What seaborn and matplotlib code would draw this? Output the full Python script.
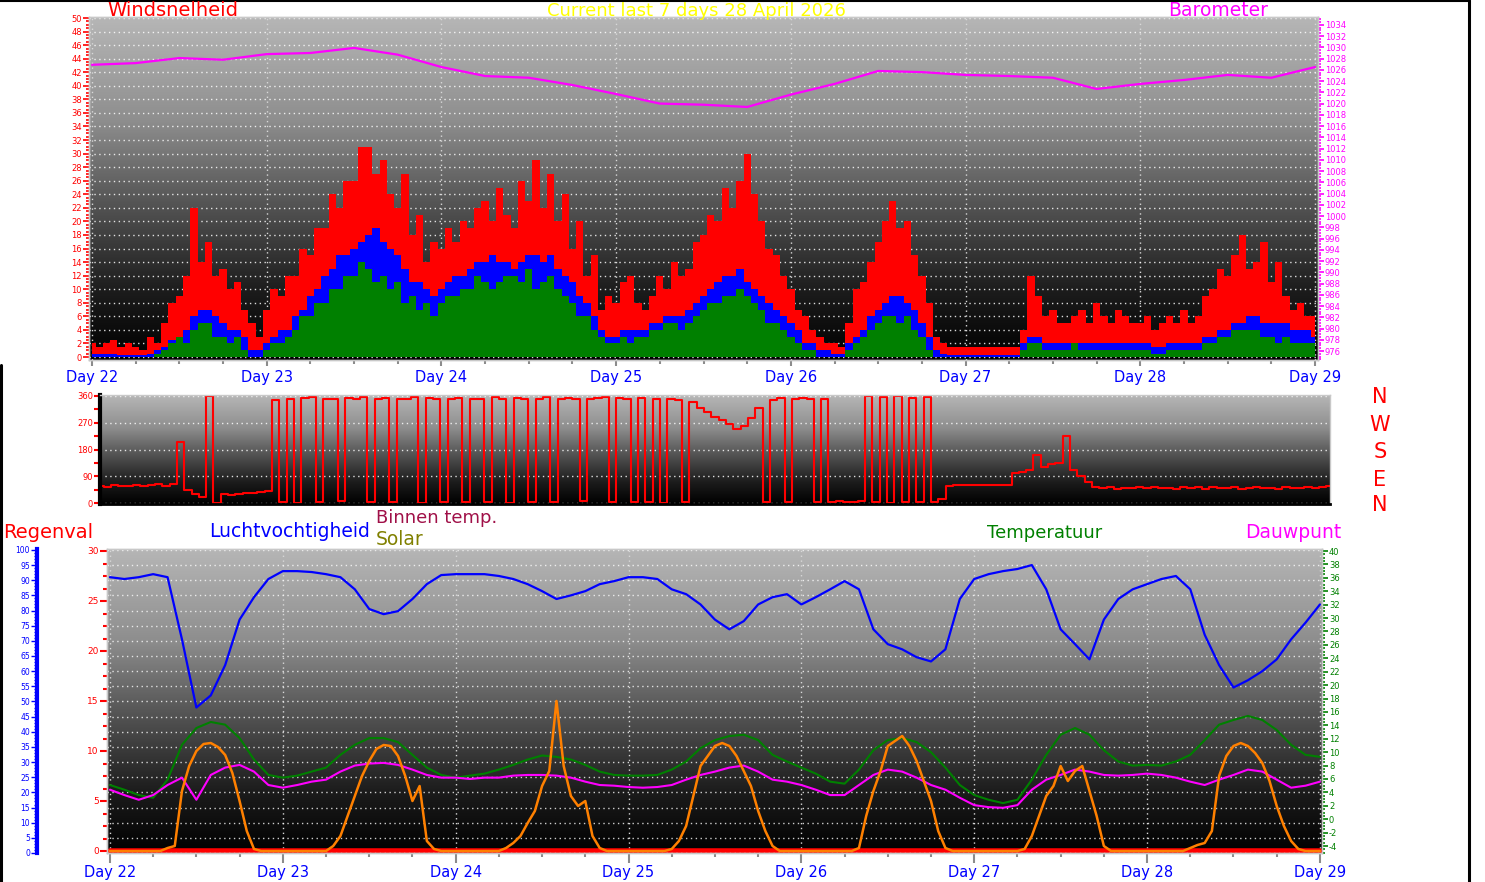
import numpy as np
import matplotlib
matplotlib.use("Agg")
import matplotlib.pyplot as plt
from matplotlib.colors import LinearSegmentedColormap
from matplotlib.lines import Line2D
from matplotlib.ticker import MultipleLocator
import seaborn as sns

# =========================================================
# Data (22-29 April)
# =========================================================
day_labels = ["Day 22", "Day 23", "Day 24", "Day 25", "Day 26", "Day 27", "Day 28", "Day 29"]
day_ticks = [22, 23, 24, 25, 26, 27, 28, 29]

# barometer (hPa), every 6 hours
baro_hpa = [1026.9, 1027.2, 1028.1, 1027.8, 1028.8, 1029.0, 1029.9, 1028.7,
            1026.5, 1024.9, 1024.6, 1023.3, 1021.7, 1020.0, 1019.8, 1019.4,
            1021.6, 1023.5, 1025.8, 1025.6, 1025.1, 1024.9, 1024.6, 1022.6,
            1023.5, 1024.2, 1025.1, 1024.6, 1026.5]

# wind (hourly): gust, average, speed
wind_gust = [2, 1.5, 2, 2.5, 1.5, 2, 1.5, 1, 3, 2, 5, 8, 9, 12, 22, 14, 17, 12, 13, 10, 11, 7, 5, 3,
             7, 10, 9, 12, 12, 16, 15, 19, 19, 24, 22, 26, 26, 31, 31, 27, 29, 24, 22, 27, 18, 21, 14, 17,
             16, 19, 17, 20, 19, 22, 23, 20, 25, 21, 19, 26, 23, 29, 22, 27, 20, 24, 16, 20, 12, 15, 7, 9,
             8, 11, 12, 8, 7, 9, 12, 10, 14, 12, 13, 17, 18, 21, 20, 25, 22, 26, 30, 24, 20, 16, 15, 12,
             10, 7, 6, 4, 3, 2, 2, 1.5, 5, 10, 11, 14, 17, 20, 23, 19, 20, 15, 12, 8, 3, 2, 1.5, 1.5,
             1.5, 1.5, 1.5, 1.5, 1.5, 1.5, 1.5, 1.5, 4, 12, 9, 6, 7, 5, 5, 6, 7, 5, 8, 6, 5, 7, 6, 5,
             5, 6, 4, 5, 6, 5, 7, 5, 6, 9, 10, 13, 12, 15, 18, 13, 14, 17, 11, 14, 9, 7, 8, 6,
             6]
wind_avg = [0.5, 0.5, 0.5, 0.5, 0.3, 0.3, 0.3, 0.3, 0.5, 1, 1.5, 2.5, 3, 4, 6, 7, 7, 6, 5, 4, 4, 3, 1, 1,
            2, 3, 4, 4, 6, 7, 9, 10, 12, 13, 15, 15, 16, 17, 18, 19, 17, 16, 15, 13, 11, 11, 10, 9,
            10, 11, 12, 12, 13, 14, 14, 15, 14, 14, 13, 14, 15, 15, 14, 15, 13, 12, 11, 9, 8, 6, 4, 3,
            3, 4, 4, 4, 4, 5, 5, 6, 6, 6, 7, 8, 9, 10, 11, 12, 12, 13, 11, 10, 9, 8, 7, 6,
            5, 4, 2, 2, 1, 1, 0.5, 0.5, 2, 3, 4, 6, 7, 8, 9, 9, 8, 7, 5, 3, 1, 0.5, 0.3, 0.3,
            0.3, 0.3, 0.3, 0.3, 0.3, 0.3, 0.3, 0.3, 2, 3, 3, 2, 2, 2, 2, 2, 2, 2, 2, 2, 2, 2, 2, 2,
            2, 2, 1.5, 1.5, 2, 2, 2, 2, 2, 3, 3, 4, 4, 5, 5, 6, 6, 5, 5, 5, 5, 4, 4, 4,
            3]
wind_speed = [0, 0, 0, 0, 0, 0, 0, 0, 0, 0.5, 1, 2, 3, 2, 4, 5, 5, 3, 3, 2, 3, 1, 0, 0,
              1, 2, 2, 3, 4, 6, 6, 8, 8, 10, 10, 12, 12, 14, 13, 11, 12, 10, 11, 8, 9, 7, 8, 6,
              8, 9, 9, 10, 10, 12, 11, 10, 11, 12, 12, 11, 13, 10, 11, 12, 10, 9, 8, 6, 6, 4, 3, 2,
              2, 3, 2, 3, 3, 4, 4, 5, 5, 4, 5, 6, 7, 8, 8, 9, 9, 10, 9, 8, 7, 5, 5, 4,
              3, 2, 1, 1, 0, 0, 0, 0, 1, 2, 3, 4, 5, 6, 6, 5, 6, 4, 3, 1, 0, 0, 0, 0,
              0, 0, 0, 0, 0, 0, 0, 0, 1, 2, 2, 1, 1, 1, 1, 2, 1, 1, 1, 1, 1, 1, 1, 1,
              1, 1, 0.5, 0.5, 1, 1, 1, 1, 1, 2, 2, 3, 3, 4, 4, 4, 4, 3, 3, 2, 3, 2, 2, 2,
              2]

# wind direction (degrees), hourly
wind_dir = [58, 55, 60, 56, 58, 62, 57, 60, 63, 58, 65, 205, 45, 30, 20, 358, 2, 30, 28, 30, 33, 35, 38, 42,
            345, 5, 350, 2, 352, 355, 5, 350, 348, 8, 352, 350, 355, 3, 350, 352, 5, 348, 350, 355, 2, 352, 350, 4,
            350, 352, 5, 348, 350, 3, 355, 350, 2, 352, 348, 5, 350, 355, 3, 350, 352, 350, 6, 348, 352, 355, 4, 352,
            350, 5, 352, 3, 348, 2, 350, 345, 3, 340, 320, 305, 290, 280, 265, 250, 260, 285, 320, 4, 345, 352, 3, 350,
            352, 348, 5, 350, 5, 6, 4, 5, 6, 358, 3, 355, 2, 358, 5, 352, 3, 356, 4, 15, 58, 60, 60, 60,
            60, 60, 60, 60, 62, 100, 105, 110, 160, 120, 130, 135, 225, 110, 90, 70, 55, 50, 55, 48, 52, 50, 55, 50,
            55, 50, 52, 48, 55, 50, 53, 48, 55, 52, 50, 55, 48, 52, 55, 50, 52, 48, 55, 50, 52, 55, 50, 53,
            58]

# humidity (%), temperature and dew point (C), every 2 hours
humidity = [91, 90.4, 91, 92, 91, 70.5, 48, 52, 62, 77, 84.4, 90.4,
            93, 93, 92.7, 92, 91, 87, 80.5, 78.8, 79.8, 83.8, 88.7, 91.7,
            92, 92, 92, 91.4, 90.4, 88.7, 86.4, 83.8, 85, 86.4, 88.7, 89.7,
            91, 91, 90.4, 87, 85.4, 82, 77, 73.8, 76.5, 82, 84.4, 85.4,
            82, 84.4, 87, 89.7, 87, 73.8, 68.9, 67.2, 64.6, 63.2, 67.2, 83.8,
            90.4, 92, 93, 93.7, 95, 87, 73.8, 68.9, 63.9, 77, 83.8, 87,
            88.7, 90.4, 91.4, 87, 72, 62, 54.6, 57, 60, 63.9, 70.5, 76,
            82]
temperature = [5.1, 4.4, 3.6, 3.2, 5.9, 11.1, 13.6, 14.5, 14.1, 12.1, 8.9, 6.6,
               6.2, 6.5, 7.1, 7.7, 9.6, 11.1, 12.1, 12.1, 11.5, 9.6, 7.7, 6.6,
               6.2, 6.5, 6.8, 7.4, 8.1, 8.9, 9.5, 9.3, 8.9, 8.1, 7.1, 6.6,
               6.5, 6.5, 6.6, 7.4, 8.6, 10.6, 11.8, 12.4, 12.6, 11.8, 9.6, 8.6,
               7.7, 6.8, 5.6, 5.3, 7.4, 10.3, 11.8, 12.1, 11.5, 10.0, 7.7, 5.1,
               3.6, 2.9, 2.4, 2.9, 5.9, 9.6, 12.6, 13.6, 12.6, 10.3, 8.6, 8.0,
               8.1, 8.0, 8.6, 9.6, 11.8, 14.1, 14.8, 15.4, 14.8, 13.3, 11.1, 9.6,
               9.3]
dewpoint = [4.4, 3.6, 2.9, 3.6, 5.1, 6.2, 2.9, 6.6, 7.7, 8.1, 7.1, 5.1,
            4.7, 5.1, 5.6, 5.9, 7.1, 8.0, 8.3, 8.4, 8.1, 7.4, 6.6, 6.2,
            6.2, 6.0, 6.2, 6.2, 6.5, 6.6, 6.6, 6.5, 6.2, 5.6, 5.1, 5.0,
            4.8, 4.7, 4.8, 5.1, 5.9, 6.6, 7.1, 7.7, 8.0, 7.1, 5.9, 5.6,
            5.1, 4.4, 3.6, 3.6, 5.1, 6.6, 7.4, 7.1, 6.2, 5.1, 4.4, 3.2,
            2.1, 1.8, 1.7, 2.1, 4.4, 5.9, 6.6, 7.4, 7.1, 6.6, 6.5, 6.6,
            6.8, 6.6, 6.2, 5.6, 5.1, 5.9, 6.6, 7.4, 7.1, 5.9, 4.7, 5.0,
            5.6]

# solar radiation (W/m2), hourly
solar = [0, 0, 0, 0, 0, 0, 0, 0, 15, 25, 300, 425, 500, 535, 540, 520, 480, 390, 250, 100, 10, 0, 0, 0,
         0, 0, 0, 0, 0, 0, 0, 25, 75, 175, 275, 375, 450, 510, 530, 525, 475, 375, 250, 325, 50, 10, 0, 0,
         0, 0, 0, 0, 0, 0, 0, 15, 40, 75, 140, 200, 325, 400, 750, 425, 275, 225, 250, 75, 15, 0, 0, 0,
         0, 0, 0, 0, 0, 0, 10, 50, 125, 275, 425, 475, 525, 540, 525, 475, 400, 325, 200, 100, 25, 0, 0, 0,
         0, 0, 0, 0, 0, 0, 0, 0, 15, 175, 300, 400, 525, 550, 575, 525, 450, 350, 250, 100, 15, 0, 0, 0,
         0, 0, 0, 0, 0, 0, 0, 10, 75, 175, 275, 325, 425, 350, 400, 425, 300, 175, 25, 0, 0, 0, 0, 0,
         0, 0, 0, 0, 0, 0, 15, 30, 40, 100, 375, 475, 525, 540, 525, 490, 440, 350, 225, 125, 50, 10, 0, 0,
         0]

# rain (mm) per day
rain_mm = [0, 0, 0, 0, 0, 0, 0, 0]

# =========================================================
# Styling helpers
# =========================================================
sns.set_style("ticks")
plt.rcParams["font.family"] = ["DejaVu Sans"]
plt.rcParams["axes.unicode_minus"] = False

RED = "#ff0000"
BLUE = "#0000ff"
GREEN = "#008000"
MAGENTA = "#ff00ff"
ORANGE = "#ff8000"
GRID_DOTS = (0, (1, 2.5))

W, H = 1485, 882
bg_cmap = LinearSegmentedColormap.from_list(
    "bg", [(0, "#000000"), (0.2, "#1c1c1c"), (0.5, "#5e5e5e"), (0.7, "#8e8e8e"), (1, "#b6b6b6")])


def box(left, top, right, bottom):
    return [left / W, 1 - bottom / H, (right - left) / W, (bottom - top) / H]


def gradient(ax):
    g = np.linspace(0, 1, 256).reshape(-1, 1)
    ax.imshow(g, extent=[0, 1, 0, 1], transform=ax.transAxes, origin="lower",
              aspect="auto", cmap=bg_cmap, zorder=0, interpolation="bilinear")


def gray_spines(ax):
    for s in ax.spines.values():
        s.set_color("#c8c8c8")
        s.set_linewidth(1)


def ftext(x, y, s, **kw):
    return fig.text(x / W, 1 - y / H, s, **kw)


def day_axis(ax, length, pad):
    ax.set_xticks(day_ticks)
    ax.set_xticklabels(day_labels)
    ax.xaxis.set_minor_locator(MultipleLocator(0.25))
    ax.tick_params(axis="x", which="both", color="#8c8c8c", labelcolor=BLUE,
                   labelsize=10.5, length=length, width=1.5, pad=pad)
    ax.tick_params(axis="x", which="minor", length=3)


fig = plt.figure(figsize=(14.85, 8.82), dpi=100)
fig.patch.set_facecolor("white")

# =========================================================
# 1. Wind speed + barometer
# =========================================================
ax1 = fig.add_axes(box(89, 17, 1318, 360))
gradient(ax1)
t_wind = 22 + np.arange(len(wind_gust)) / 24
ax1.fill_between(t_wind, 0, wind_gust, step="mid", color=RED, lw=0, zorder=2)
ax1.fill_between(t_wind, 0, wind_avg, step="mid", color=BLUE, lw=0, zorder=3)
ax1.fill_between(t_wind, 0, wind_speed, step="mid", color=GREEN, lw=0, zorder=4)
ax1.set_ylim(-0.44, 50.15)
ax1.set_yticks(np.arange(0, 51, 2))
ax1.yaxis.set_minor_locator(MultipleLocator(0.5))
ax1.tick_params(axis="y", which="both", color=RED, labelcolor=RED, labelsize=6,
                length=4, width=1.2, pad=1)
ax1.tick_params(axis="y", which="minor", length=2.5)
day_axis(ax1, 4, 3)
ax1.grid(axis="y", color="white", linestyle=GRID_DOTS, linewidth=1, alpha=0.85)
ax1.grid(axis="x", color="#d8d8d8", linestyle=GRID_DOTS, linewidth=1)
ax1.set_axisbelow(True)
gray_spines(ax1)

ax1b = ax1.twinx()
t_baro = 22 + np.arange(len(baro_hpa)) / 4
sns.lineplot(x=t_baro, y=baro_hpa, ax=ax1b, color=MAGENTA, linewidth=1.6, errorbar=None)
ax1b.set_ylim(974.4, 1035.4)
ax1b.set_yticks(np.arange(976, 1035, 2))
ax1b.yaxis.set_minor_locator(MultipleLocator(0.5))
ax1b.tick_params(axis="y", which="both", color=MAGENTA, labelcolor=MAGENTA, labelsize=6,
                 length=4, width=1.2, pad=1)
ax1b.tick_params(axis="y", which="minor", length=2.5)
ax1b.set_ylabel("")
gray_spines(ax1b)
ax1.set_xlim(21.983, 29.017)

# =========================================================
# 2. Wind direction
# =========================================================
ax2 = fig.add_axes(box(100, 395, 1330, 504))
gradient(ax2)
t_dir = 22 + np.arange(len(wind_dir)) / 24
sns.lineplot(x=t_dir, y=wind_dir, ax=ax2, color=RED, linewidth=1.5, errorbar=None,
             drawstyle="steps-mid")
ax2.set_xlim(22, 29)
ax2.set_ylim(-3, 363)
ax2.set_yticks([0, 90, 180, 270, 360])
ax2.yaxis.set_minor_locator(MultipleLocator(45))
ax2.tick_params(axis="y", which="both", color=RED, labelcolor=RED, labelsize=6,
                length=4, width=1.5, pad=1)
ax2.set_xticks([])
ax2.set_ylabel("")
ax2.grid(axis="y", color="white", linestyle=GRID_DOTS, linewidth=1, alpha=0.85)
ax2.set_axisbelow(True)
gray_spines(ax2)
ax2.spines["left"].set_color("black")
ax2.spines["left"].set_linewidth(3)
ax2.spines["bottom"].set_color("black")
ax2.spines["bottom"].set_linewidth(2)

for letter, ly in zip(["N", "W", "S", "E", "N"], [397, 425, 452, 480, 505]):
    ftext(1380, ly, letter, color=RED, fontsize=15, ha="center", va="center")

# =========================================================
# 3. Rain / humidity / temperature / dew point / solar
# =========================================================
ax3 = fig.add_axes(box(107, 549, 1322, 853))
gradient(ax3)
sns.lineplot(x=day_ticks, y=rain_mm, ax=ax3, color=RED, linewidth=4, errorbar=None)
ax3.set_ylim(-0.2, 30.2)
ax3.set_yticks(np.arange(0, 31, 5))
ax3.yaxis.set_minor_locator(MultipleLocator(1.25))
ax3.tick_params(axis="y", which="both", color=RED, labelcolor=RED, labelsize=6.5,
                length=5, width=1.5, pad=1)
ax3.tick_params(axis="y", which="minor", length=3)
day_axis(ax3, 7, 2)
ax3.grid(axis="x", color="#d8d8d8", linestyle=GRID_DOTS, linewidth=1)
ax3.set_axisbelow(True)
ax3.set_ylabel("")
gray_spines(ax3)

# humidity axis, detached on the far left
ax3h = ax3.twinx()
t2 = 22 + np.arange(len(humidity)) / 12
sns.lineplot(x=t2, y=humidity, ax=ax3h, color=BLUE, linewidth=1.6, errorbar=None)
ax3h.set_ylim(0, 100.3)
for side in ["top", "bottom", "right"]:
    ax3h.spines[side].set_visible(False)
ax3h.spines["left"].set_visible(True)
ax3h.spines["left"].set_position(("axes", (37 - 107) / 1215))
ax3h.spines["left"].set_color(BLUE)
ax3h.spines["left"].set_linewidth(3)
ax3h.yaxis.set_ticks_position("left")
ax3h.yaxis.set_label_position("left")
ax3h.set_yticks(np.arange(0, 101, 5))
ax3h.yaxis.set_minor_locator(MultipleLocator(1))
ax3h.tick_params(axis="y", which="both", color=BLUE, labelcolor=BLUE, labelsize=5.5,
                 length=4, width=1, pad=1)
ax3h.tick_params(axis="y", which="minor", length=2)
ax3h.grid(axis="y", color="white", linestyle=GRID_DOTS, linewidth=1, alpha=0.8)
ax3h.set_axisbelow(True)
ax3h.set_ylabel("")

# temperature axis (right)
ax3t = ax3.twinx()
sns.lineplot(x=t2, y=temperature, ax=ax3t, color=GREEN, linewidth=1.5, errorbar=None)
sns.lineplot(x=t2, y=dewpoint, ax=ax3t, color=MAGENTA, linewidth=1.5, errorbar=None)
ax3t.set_ylim(-5.04, 40.3)
ax3t.set_yticks(np.arange(-4, 41, 2))
ax3t.yaxis.set_minor_locator(MultipleLocator(0.5))
ax3t.tick_params(axis="y", which="both", color=GREEN, labelcolor=GREEN, labelsize=6,
                 length=4, width=1.2, pad=1)
ax3t.tick_params(axis="y", which="minor", length=2.5)
ax3t.set_ylabel("")
gray_spines(ax3t)

# solar (no visible scale)
ax3s = ax3.twinx()
t1 = 22 + np.arange(len(solar)) / 24
sns.lineplot(x=t1, y=solar, ax=ax3s, color=ORANGE, linewidth=1.8, errorbar=None)
ax3s.set_ylim(-10, 1510)
ax3s.set_axis_off()
ax3.set_xlim(21.983, 29.012)

# =========================================================
# 4. Titles, legend texts and frame
# =========================================================
ftext(107, 16, "Windsnelheid", color=RED, fontsize=14, ha="left", va="baseline")
ftext(696, 16, "Current last 7 days 28 April 2026", color="#ffff00", fontsize=13,
      ha="center", va="baseline")
ftext(1218, 16, "Barometer", color=MAGENTA, fontsize=13.5, ha="center", va="baseline")

ftext(3, 538, "Regenval", color=RED, fontsize=14, ha="left", va="baseline")
ftext(209, 537, "Luchtvochtigheid", color=BLUE, fontsize=13.5, ha="left", va="baseline")
ftext(376, 523, "Binnen temp.", color="#a01048", fontsize=13, ha="left", va="baseline")
ftext(376, 545, "Solar", color="#808000", fontsize=13.5, ha="left", va="baseline")
ftext(987, 538, "Temperatuur", color=GREEN, fontsize=13, ha="left", va="baseline")
ftext(1245, 538, "Dauwpunt", color=MAGENTA, fontsize=13.5, ha="left", va="baseline")

fig.add_artist(Line2D([1468.5 / W, 1468.5 / W], [0, 1], transform=fig.transFigure,
                      color="black", linewidth=2.2))
fig.add_artist(Line2D([0, 1468.5 / W], [1 - 0.5 / H, 1 - 0.5 / H], transform=fig.transFigure,
                      color="black", linewidth=1.5))
fig.add_artist(Line2D([1.2 / W, 1.2 / W], [0, 1 - 365 / H], transform=fig.transFigure,
                      color="black", linewidth=2.2))

fig.savefig("out.png", dpi=100, facecolor="white")
